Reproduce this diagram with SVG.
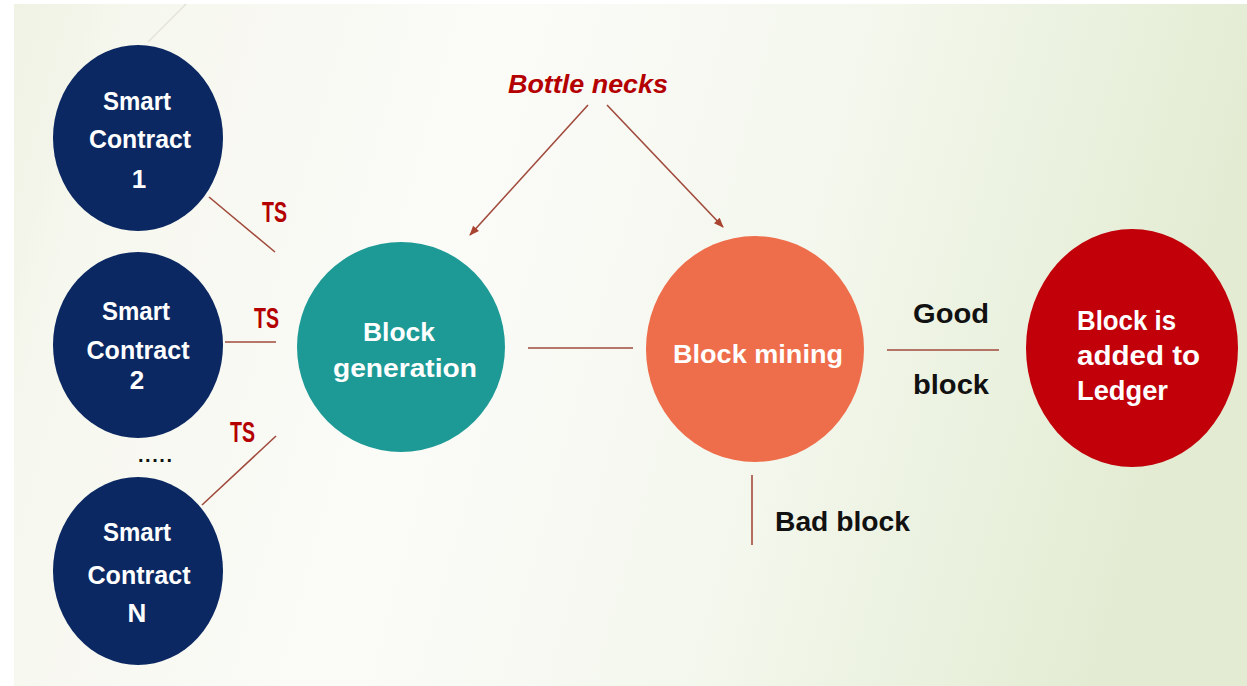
<svg xmlns="http://www.w3.org/2000/svg" width="1247" height="686" viewBox="0 0 1247 686">
<defs>
<linearGradient id="bg" x1="0" y1="0" x2="1" y2="0.15">
<stop offset="0" stop-color="#f0f2e4"/>
<stop offset="0.1" stop-color="#f6f7ee"/>
<stop offset="0.4" stop-color="#fbfbf8"/>
<stop offset="0.7" stop-color="#f3f7ec"/>
<stop offset="1" stop-color="#e3ecd3"/>
</linearGradient>
<marker id="ah" viewBox="0 0 10 8" refX="9" refY="4" markerWidth="11" markerHeight="8" orient="auto" markerUnits="userSpaceOnUse">
<path d="M0,0 L10,4 L0,8 Z" fill="#a8442f"/>
</marker>
</defs>
<style>
.t{font-family:"Liberation Sans",Arial,sans-serif;font-weight:bold}
.w{fill:#ffffff;text-anchor:middle;font-size:26px}
.w27{fill:#ffffff;font-size:27px}
.k{fill:#111111;font-size:27px}
.ts{fill:#b40000;font-size:29px}
.ln{stroke:#a04a3c;stroke-width:1.6;fill:none}
.navy{fill:#0b2862}
</style>
<rect x="0" y="0" width="1247" height="686" fill="#ffffff"/>
<rect x="14" y="4" width="1233" height="682" fill="url(#bg)"/>
<line x1="186" y1="4" x2="148" y2="42" stroke="#e2e2d6" stroke-width="1.2"/>

<g id="connectors">
<line class="ln" x1="209" y1="197" x2="275" y2="252"/>
<line class="ln" x1="225" y1="342" x2="276" y2="342"/>
<line class="ln" x1="202" y1="505" x2="276" y2="436"/>
<line class="ln" x1="528" y1="348" x2="633" y2="348"/>
<line class="ln" x1="887" y1="350" x2="999" y2="350"/>
<line class="ln" x1="752" y1="475" x2="752" y2="545"/>
<line class="ln" x1="588" y1="105" x2="470" y2="235" marker-end="url(#ah)"/>
<line class="ln" x1="607" y1="105" x2="723" y2="227" marker-end="url(#ah)"/>
</g>

<g id="sc1">
<ellipse class="navy" cx="138" cy="138" rx="85" ry="93"/>
<text class="t w" x="137" y="110" textLength="68" lengthAdjust="spacingAndGlyphs">Smart</text>
<text class="t w" x="140" y="148" textLength="102" lengthAdjust="spacingAndGlyphs">Contract</text>
<text class="t w" x="139" y="188">1</text>
</g>
<g id="sc2">
<ellipse class="navy" cx="138" cy="345" rx="85" ry="93"/>
<text class="t w" x="136" y="320" textLength="68" lengthAdjust="spacingAndGlyphs">Smart</text>
<text class="t w" x="138" y="359" textLength="103" lengthAdjust="spacingAndGlyphs">Contract</text>
<text class="t w" x="137" y="389" font-size="24">2</text>
</g>
<g id="scn">
<ellipse class="navy" cx="138" cy="571" rx="85" ry="94"/>
<text class="t w" x="137" y="541" textLength="68" lengthAdjust="spacingAndGlyphs">Smart</text>
<text class="t w" x="139" y="584" textLength="103" lengthAdjust="spacingAndGlyphs">Contract</text>
<text class="t w" x="137" y="622">N</text>
</g>
<g id="dots">
<text class="t" x="138" y="462" font-size="20" fill="#111111" textLength="34" lengthAdjust="spacing">.....</text>
</g>
<g id="ts-labels">
<text class="t ts" x="262" y="222" textLength="25" lengthAdjust="spacingAndGlyphs">TS</text>
<text class="t ts" x="254" y="328" textLength="25" lengthAdjust="spacingAndGlyphs">TS</text>
<text class="t ts" x="230" y="442" textLength="25" lengthAdjust="spacingAndGlyphs">TS</text>
</g>
<g id="block-generation">
<ellipse cx="401" cy="347" rx="104" ry="105" fill="#1e9a96"/>
<text class="t w" x="399" y="341" font-size="27" textLength="72" lengthAdjust="spacingAndGlyphs">Block</text>
<text class="t w" x="405" y="377" font-size="27" textLength="144" lengthAdjust="spacingAndGlyphs">generation</text>
</g>
<g id="bottle-necks">
<text class="t" x="508" y="93" font-size="26" font-style="italic" fill="#b40000" textLength="160" lengthAdjust="spacingAndGlyphs">Bottle necks</text>
</g>
<g id="block-mining">
<ellipse cx="755" cy="349" rx="109" ry="113" fill="#ee6d4b"/>
<text class="t w" x="758" y="363" font-size="27" textLength="170" lengthAdjust="spacingAndGlyphs">Block mining</text>
</g>
<g id="good-block">
<text class="t k" x="913" y="323" textLength="76" lengthAdjust="spacingAndGlyphs">Good</text>
<text class="t k" x="913" y="394" textLength="76" lengthAdjust="spacingAndGlyphs">block</text>
</g>
<g id="bad-block">
<text class="t k" x="775" y="531" textLength="135" lengthAdjust="spacingAndGlyphs">Bad block</text>
</g>
<g id="ledger">
<ellipse cx="1132" cy="348" rx="106" ry="119" fill="#c1000a"/>
<text class="t w27" x="1077" y="330" textLength="99" lengthAdjust="spacingAndGlyphs">Block is</text>
<text class="t w27" x="1077" y="365" textLength="123" lengthAdjust="spacingAndGlyphs">added to</text>
<text class="t w27" x="1077" y="400" textLength="91" lengthAdjust="spacingAndGlyphs">Ledger</text>
</g>
</svg>
